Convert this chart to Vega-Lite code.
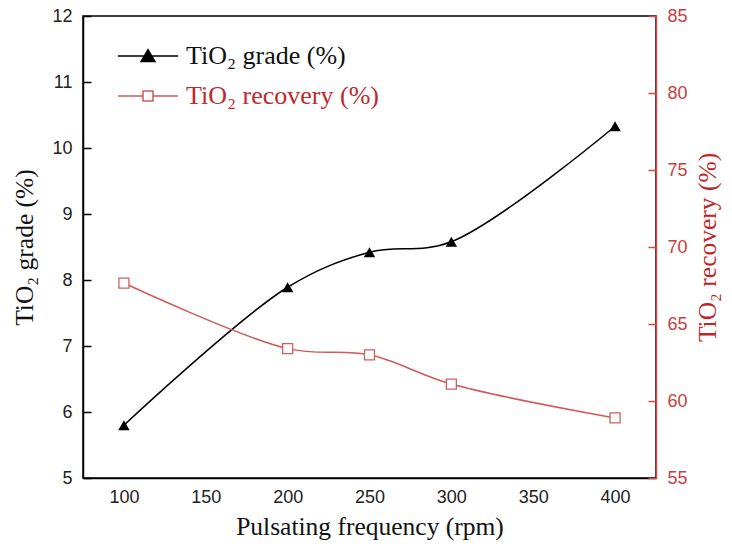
{
  "$schema": "https://vega.github.io/schema/vega-lite/v6.json",
  "width": 573,
  "height": 462,
  "autosize": {"type": "none"},
  "padding": {"left": 83, "top": 16, "right": 76, "bottom": 74},
  "background": "white",
  "config": {
    "view": {"stroke": "black", "strokeWidth": 1.5},
    "axis": {"labelFont": "Liberation Sans", "labelFontSize": 18, "titleFont": "Liberation Serif", "titleFontSize": 25.5, "titleFontWeight": "normal", "grid": false}
  },
  "data": {
    "values": [
      {"freq": 100, "grade": 5.8, "recovery": 67.66},
      {"freq": 200, "grade": 7.89, "recovery": 63.4},
      {"freq": 250, "grade": 8.42, "recovery": 63.0},
      {"freq": 300, "grade": 8.58, "recovery": 61.1},
      {"freq": 400, "grade": 10.33, "recovery": 58.9}
    ]
  },
  "encoding": {
    "x": {
      "field": "freq", "type": "quantitative",
      "scale": {"domain": [75, 425], "nice": false, "zero": false},
      "axis": {"values": [100, 150, 200, 250, 300, 350, 400], "tickSize": 0, "labelPadding": 10, "title": "Pulsating frequency (rpm)", "domainColor": "black", "domainWidth": 1.5, "labelColor": "#222222", "titleColor": "#111111", "titlePadding": 8}
    }
  },
  "layer": [
    {
      "layer": [
        {
          "mark": {"type": "line", "interpolate": "catmull-rom", "strokeWidth": 1.5},
          "encoding": {
            "y": {
              "field": "grade", "type": "quantitative",
              "scale": {"domain": [5, 12], "nice": false, "zero": false},
              "axis": {
                "orient": "left",
                "values": [5, 5.5, 6, 6.5, 7, 7.5, 8, 8.5, 9, 9.5, 10, 10.5, 11, 11.5, 12],
                "format": "d",
                "labelExpr": "datum.value % 1 === 0 ? datum.label : ''",
                "tickSize": {"condition": {"test": "datum.value % 1 === 0", "value": -8}, "value": -5},
                "tickColor": "black", "tickWidth": 1.5,
                "domainColor": "black", "domainWidth": 1.5,
                "labelPadding": 19, "labelColor": "#222222",
                "title": "TiO₂ grade (%)", "titleColor": "#111111", "titlePadding": 14
              }
            },
            "color": {
              "datum": "TiO₂ grade (%)",
              "scale": {"domain": ["TiO₂ grade (%)", "TiO₂ recovery (%)"], "range": ["black", "#d05a5a"]},
              "legend": {
                "orient": "none", "legendX": 52, "legendY": 27, "title": null, "padding": 0,
                "symbolSize": 144, "symbolStrokeWidth": 1.5,
                "labelFont": "Liberation Serif", "labelFontSize": 26, "labelOffset": 25, "rowPadding": 14, "labelLimit": 400,
                "encode": {
                  "symbols": {"update": {
                    "shape": {"signal": "datum.index === 0 ? 'M-5,0H5M0,-1.05L1.15,0.9L-1.15,0.9Z' : 'M-5,0H-0.83M0.83,0H5M-0.83,-0.83H0.83V0.83H-0.83Z'"},
                    "fill": {"signal": "datum.index === 0 ? 'black' : 'white'"},
                    "stroke": {"signal": "datum.index === 0 ? 'black' : '#d05a5a'"},
                    "opacity": {"value": 1}
                  }},
                  "labels": {"update": {"fill": {"signal": "datum.index === 0 ? '#111111' : '#c0282d'"}}}
                }
              }
            }
          }
        },
        {
          "mark": {"type": "point", "shape": "triangle-up", "filled": true, "fill": "black", "stroke": null, "size": 130, "opacity": 1},
          "encoding": {"y": {"field": "grade", "type": "quantitative", "scale": {"domain": [5, 12], "nice": false, "zero": false}}}
        }
      ]
    },
    {
      "layer": [
        {
          "mark": {"type": "line", "interpolate": "catmull-rom", "strokeWidth": 1.5},
          "encoding": {
            "y": {
              "field": "recovery", "type": "quantitative",
              "scale": {"domain": [55, 85], "nice": false, "zero": false},
              "axis": {
                "orient": "right",
                "values": [55, 57.5, 60, 62.5, 65, 67.5, 70, 72.5, 75, 77.5, 80, 82.5, 85],
                "format": "d",
                "labelExpr": "datum.value % 5 === 0 ? datum.label : ''",
                "tickSize": {"condition": {"test": "datum.value % 5 === 0", "value": -8}, "value": -5},
                "tickColor": "#d04848", "tickWidth": 1.5,
                "domainColor": "#d04848", "domainWidth": 1.5,
                "labelPadding": 19, "labelColor": "#c84040",
                "title": "TiO₂ recovery (%)", "titleColor": "#c02525", "titlePadding": 33, "titleAngle": 270
              }
            },
            "color": {"datum": "TiO₂ recovery (%)"}
          }
        },
        {
          "mark": {"type": "point", "shape": "square", "filled": true, "fill": "white", "stroke": "#d06060", "strokeWidth": 1.3, "size": 100, "opacity": 1},
          "encoding": {"y": {"field": "recovery", "type": "quantitative", "scale": {"domain": [55, 85], "nice": false, "zero": false}}}
        }
      ]
    }
  ],
  "resolve": {"scale": {"y": "independent"}}
}
